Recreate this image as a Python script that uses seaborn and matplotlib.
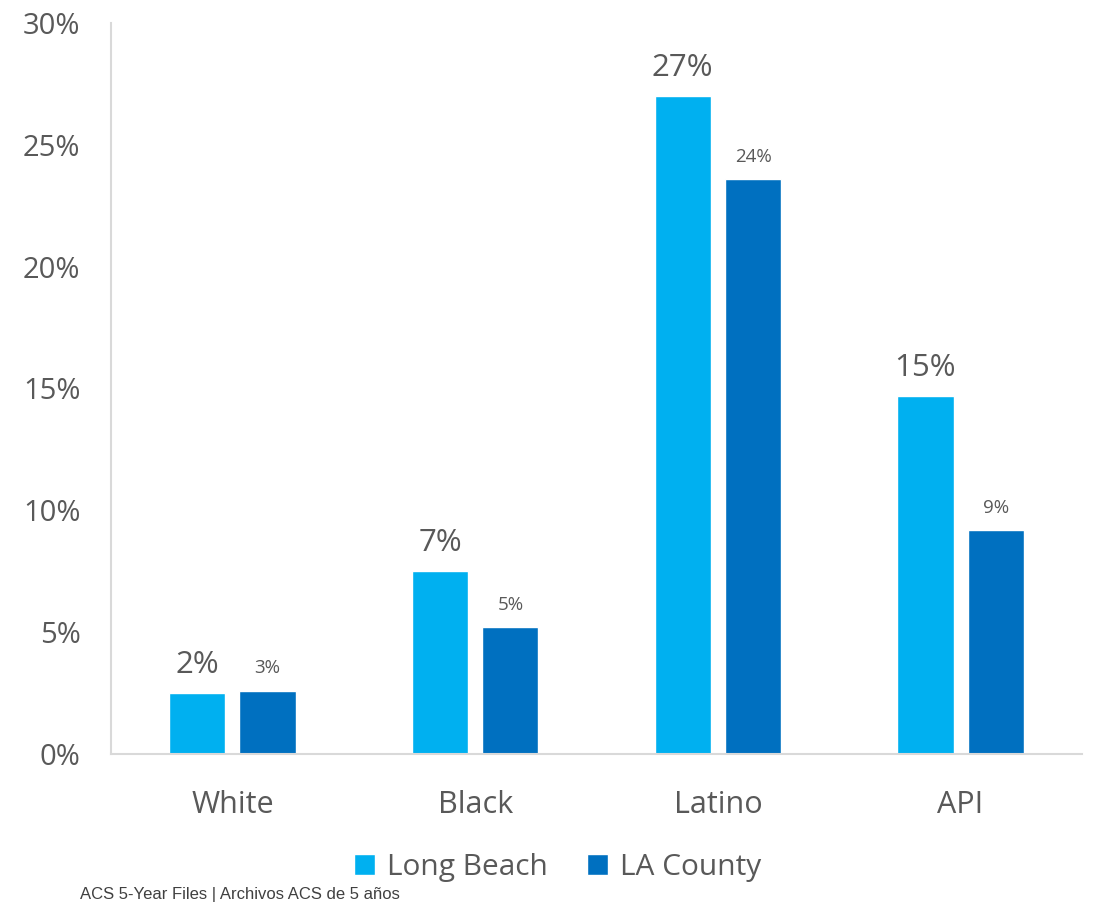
import matplotlib
matplotlib.use("Agg")
import matplotlib.pyplot as plt
import seaborn as sns
import pandas as pd

# data (percent)
groups = ["White", "Black", "Latino", "API"]
long_beach = [2.5, 7.5, 27.0, 14.7]
la_county = [2.6, 5.2, 23.6, 9.2]
lb_labels = ["2%", "7%", "27%", "15%"]
la_labels = ["3%", "5%", "24%", "9%"]
series = ["Long Beach", "LA County"]
colors = ["#00B0F0", "#0070C0"]

df = pd.DataFrame({
    "group": groups * 2,
    "value": long_beach + la_county,
    "area": [series[0]] * 4 + [series[1]] * 4,
})

sns.set_style("white")
plt.rcParams["font.family"] = ["Open Sans", "DejaVu Sans"]
grey = "#595959"

fig = plt.figure(figsize=(10.94, 9.05), dpi=100)
ax = fig.add_axes([0.1015, 0.1669, 0.8875, 0.8077])

sns.barplot(data=df, x="group", y="value", hue="area", palette=colors,
            width=0.58, gap=0.2, ax=ax, saturation=1)

# data labels
for cont, labs, size, off in zip(ax.containers, [lb_labels, la_labels], [22.5, 13.5], [20, 16]):
    for bar, lab in zip(cont, labs):
        ax.annotate(lab, (bar.get_x() + bar.get_width() / 2, bar.get_height()),
                    xytext=(0, off), textcoords="offset points",
                    ha="center", va="center", fontsize=size, color=grey)

ax.set_ylim(0, 30)
ax.set_xlim(-0.5, 3.5)
ax.set_yticks(range(0, 31, 5))
ax.set_yticklabels([f"{v}%" for v in range(0, 31, 5)])
ax.tick_params(axis="y", labelsize=21, colors=grey, length=0, pad=22)
ax.tick_params(axis="x", labelsize=22, colors=grey, length=0, pad=26)
ax.set_xlabel("")
ax.set_ylabel("")

for s in ["top", "right"]:
    ax.spines[s].set_visible(False)
for s in ["left", "bottom"]:
    ax.spines[s].set_color("#D9D9D9")
    ax.spines[s].set_linewidth(1.5)

ax.legend(loc="center", bbox_to_anchor=(0.46, -0.155), ncol=2, frameon=False,
          fontsize=21.5, labelcolor=grey, handlelength=0.7, handleheight=0.7,
          handletextpad=0.4, columnspacing=1.3)

fig.text(0.073, 0.003, "ACS 5-Year Files | Archivos ACS de 5 años",
         fontsize=12, color="#404040", family=["Liberation Sans", "DejaVu Sans"],
         ha="left", va="bottom")

fig.savefig("out.png", dpi=100)
